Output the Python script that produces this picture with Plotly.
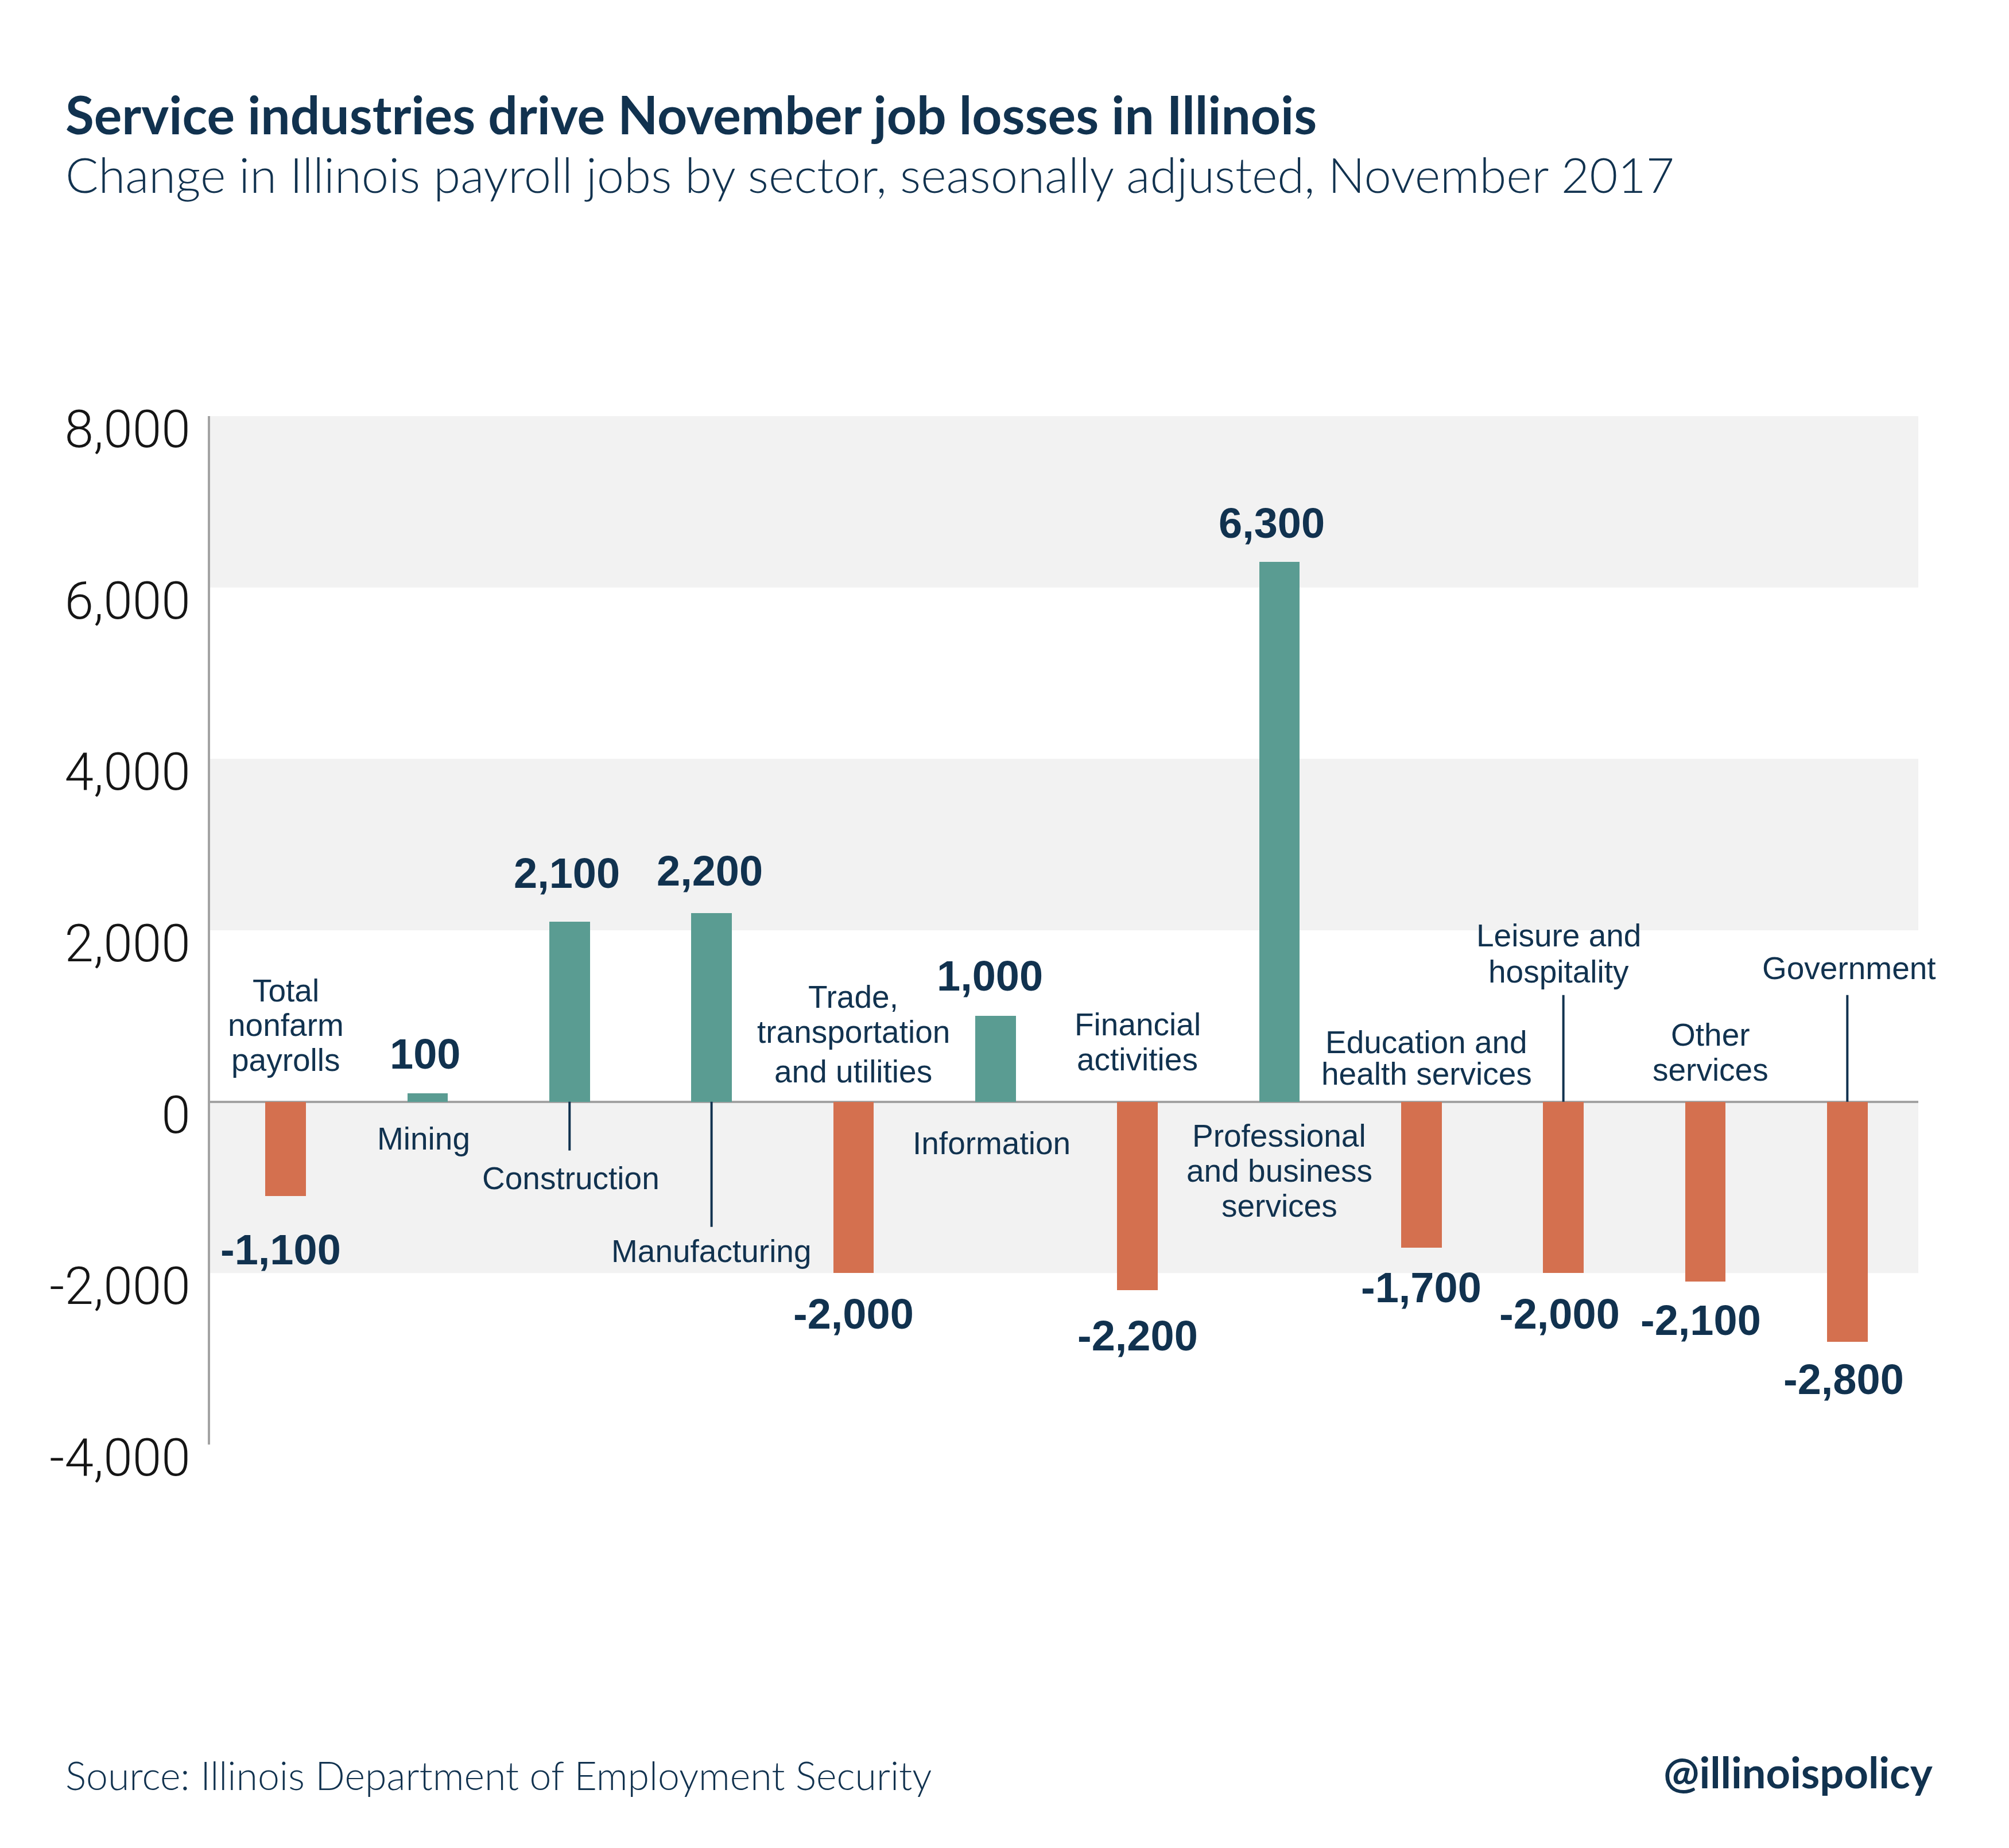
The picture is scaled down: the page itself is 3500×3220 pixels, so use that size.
import plotly.graph_objects as go

# ---------------- data ----------------
categories = [
    "Total nonfarm payrolls", "Mining", "Construction", "Manufacturing",
    "Trade, transportation and utilities", "Information", "Financial activities",
    "Professional and business services", "Education and health services",
    "Leisure and hospitality", "Other services", "Government",
]
values = [-1100, 100, 2100, 2200, -2000, 1000, -2200, 6300, -1700, -2000, -2100, -2800]
label_lines = [
    ["Total", "nonfarm", "payrolls"], ["Mining"], ["Construction"], ["Manufacturing"],
    ["Trade,", "transportation", "and utilities"], ["Information"], ["Financial", "activities"],
    ["Professional", "and business", "services"], ["Education and", "health services"],
    ["Leisure and", "hospitality"], ["Other", "services"], ["Government"],
]
y_ticks = [-4000, -2000, 0, 2000, 4000, 6000, 8000]

title = "Service industries drive November job losses in Illinois"
subtitle = "Change in Illinois payroll jobs by sector, seasonally adjusted, November 2017"
source = "Source: Illinois Department of Employment Security"
handle = "@illinoispolicy"

# ---------------- style / layout ----------------
NAVY = "#11324f"
TEAL = "#5a9c92"
ORANGE = "#d4704f"
BAND = "#f2f2f2"
AXIS_GREY = "#a3a3a3"

W, H = 3500, 3220
L, R, T, B = 366, 158, 725, 703
PW, PH = W - L - R, H - T - B

# label baseline offsets (px above zero line, per line) and x shifts
label_baselines = [
    [174, 114, 53], [-84], [-153], [-280], [163, 102, 33], [-92], [115, 54],
    [-79, -140, -201], [84, 29], [270, 207], [97, 36], [213],
]
label_dx = [0, -7, 2, 0, 0, -7, 0, 0, 9, -8, 9, 3]
value_offsets = [-94, 68, 85, 74, -71, 70, -79, 67, -70, -71, -67, -66]
value_dx = [-9, -4, -5, -3, 0, -10, 0, -13, 0, -7, -8, -6]
leaders = {2: -85, 3: -218, 9: 186, 11: 186}

CAT_FS = 55
VAL_FS = 74
TEXT_FONT = "Liberation Sans, Arial, sans-serif"
HEAD_FONT = "Lato, Roboto, sans-serif"

colors = [TEAL if v >= 0 else ORANGE for v in values]

fig = go.Figure()
fig.add_trace(go.Bar(
    x=categories, y=values, width=0.286,
    marker=dict(color=colors, line=dict(width=0)),
    hoverinfo="skip", showlegend=False,
))

shapes = []
# horizontal bands
for y0, y1 in [(6000, 8000), (2000, 4000), (-2000, 0)]:
    shapes.append(dict(type="rect", xref="paper", yref="y", x0=0, x1=1, y0=y0, y1=y1,
                       fillcolor=BAND, line=dict(width=0), layer="below"))
# leader lines
for i, dy in leaders.items():
    shapes.append(dict(type="line", xref="x", yref="y", x0=i, x1=i,
                       ysizemode="pixel", yanchor=0, y0=0, y1=dy,
                       line=dict(color=NAVY, width=4), layer="above"))

annotations = []
# value labels
for i, v in enumerate(values):
    annotations.append(dict(
        x=categories[i], y=v, xref="x", yref="y", text=f"{v:,}", showarrow=False,
        xanchor="center", yanchor="middle", yshift=value_offsets[i], xshift=value_dx[i],
        font=dict(family=TEXT_FONT, size=VAL_FS, color=NAVY, weight=700),
    ))
# category labels (one annotation per line for tight leading)
for i, lines in enumerate(label_lines):
    for line, base in zip(lines, label_baselines[i]):
        annotations.append(dict(
            x=categories[i], y=0, xref="x", yref="y", text=line, showarrow=False,
            xanchor="center", yanchor="middle", yshift=base + 0.35 * CAT_FS,
            xshift=label_dx[i],
            font=dict(family=TEXT_FONT, size=CAT_FS, color=NAVY),
        ))


def paper_x(px):
    return (px - L) / PW


def paper_y_center(baseline, fs):
    centre = baseline - 0.35 * fs
    return (H - B - centre) / PH


TITLE_FS = 91
SUB_FS = 85
SRC_FS = 68
HANDLE_FS = 74
annotations += [
    dict(text=f"<b>{title}</b>", xref="paper", yref="paper", x=paper_x(112),
         y=paper_y_center(230, TITLE_FS), xanchor="left", yanchor="middle", showarrow=False,
         font=dict(family=HEAD_FONT, size=TITLE_FS, color=NAVY)),
    dict(text=subtitle, xref="paper", yref="paper", x=paper_x(112),
         y=paper_y_center(333, SUB_FS), xanchor="left", yanchor="middle", showarrow=False,
         font=dict(family=HEAD_FONT, size=SUB_FS, color=NAVY, weight=300)),
    dict(text=source, xref="paper", yref="paper", x=paper_x(112),
         y=paper_y_center(3116, SRC_FS), xanchor="left", yanchor="middle", showarrow=False,
         font=dict(family=HEAD_FONT, size=SRC_FS, color=NAVY, weight=300)),
    dict(text=f"<b>{handle}</b>", xref="paper", yref="paper", x=paper_x(3369),
         y=paper_y_center(3113, HANDLE_FS), xanchor="right", yanchor="middle", showarrow=False,
         font=dict(family=HEAD_FONT, size=HANDLE_FS, color=NAVY)),
]

fig.update_layout(
    width=W, height=H,
    margin=dict(l=L, r=R, t=T, b=B, pad=0),
    paper_bgcolor="white", plot_bgcolor="white",
    bargap=0, shapes=shapes, annotations=annotations,
    xaxis=dict(type="category", range=[-0.532, 11.5], showticklabels=False,
               showgrid=False, zeroline=False, showline=False, ticks="", fixedrange=True),
    yaxis=dict(range=[-4000, 8000], tickvals=y_ticks,
               ticktext=[f"{v:,}" for v in y_ticks],
               showgrid=False, zeroline=True, zerolinecolor=AXIS_GREY, zerolinewidth=4,
               showline=True, linecolor=AXIS_GREY, linewidth=4, ticks="",
               ticklabelstandoff=12, ticklabelshift=22,
               tickfont=dict(family="Roboto, Liberation Sans, sans-serif", size=91,
                             color="#151515", weight=300),
               fixedrange=True),
)

fig.write_html("out.html")
